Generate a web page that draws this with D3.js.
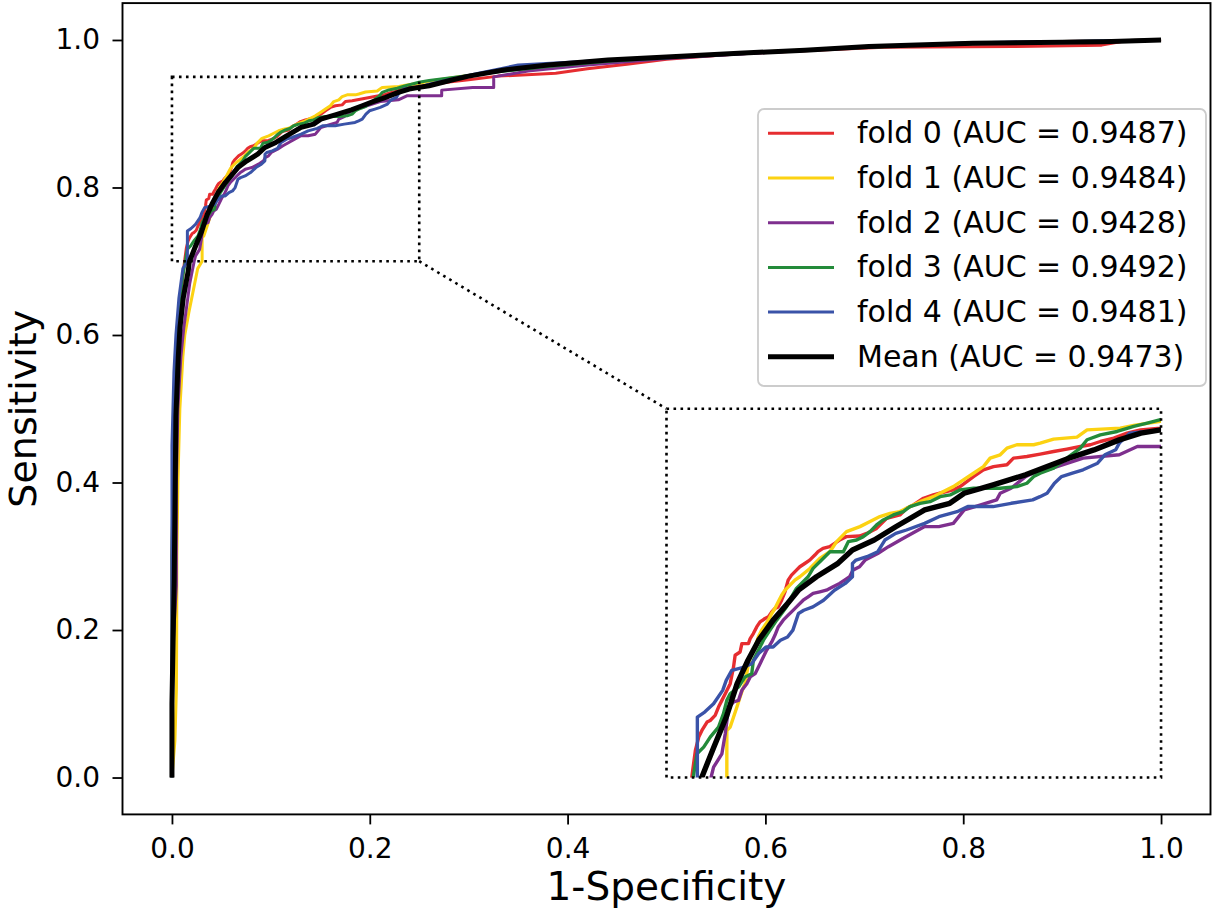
<!DOCTYPE html>
<html>
<head>
<meta charset="utf-8">
<script src="https://cdn.jsdelivr.net/npm/d3@7"></script>
<style>
body { margin: 0; background: #fff; }
svg { display: block; font-family: "DejaVu Sans", sans-serif; }
</style>
</head>
<body>
<div id="roc"></div>
<script>
// ROC points per fold: [1-specificity, sensitivity]
var fold0 = [[0,0],[0,0.3],[0.002,0.45],[0.004,0.55],[0.006,0.6],[0.009,0.65],[0.011,0.68],[0.0129,0.7014],[0.0146,0.7183],[0.0163,0.7274],[0.0179,0.7319],[0.0205,0.7376],[0.0221,0.7387],[0.0246,0.7421],[0.0263,0.7478],[0.028,0.7523],[0.0297,0.7568],[0.0322,0.7636],[0.0339,0.775],[0.0347,0.7829],[0.0372,0.7851],[0.0381,0.7908],[0.0414,0.7908],[0.0423,0.7942],[0.0439,0.7976],[0.0456,0.8021],[0.0473,0.8055],[0.0498,0.8078],[0.0515,0.8089],[0.0532,0.8123],[0.0548,0.8146],[0.0565,0.8157],[0.0582,0.8202],[0.0599,0.8259],[0.0615,0.8338],[0.0632,0.8372],[0.0657,0.8406],[0.0674,0.8429],[0.0699,0.8451],[0.0724,0.8474],[0.075,0.8508],[0.0766,0.8531],[0.0791,0.8553],[0.0825,0.8565],[0.085,0.8587],[0.0875,0.861],[0.0909,0.8633],[0.0976,0.8637],[0.1012,0.8655],[0.1062,0.8689],[0.1113,0.8757],[0.118,0.878],[0.1214,0.8825],[0.1248,0.8848],[0.1299,0.8893],[0.1349,0.8916],[0.14,0.8934],[0.145,0.895],[0.1484,0.8972],[0.1552,0.904],[0.1602,0.9086],[0.1653,0.9108],[0.1721,0.912],[0.1754,0.9165],[0.1822,0.9176],[0.1889,0.9192],[0.1957,0.921],[0.2024,0.9226],[0.2092,0.9244],[0.2143,0.9256],[0.2193,0.9278],[0.2261,0.9301],[0.2328,0.9335],[0.2396,0.9357],[0.2497,0.9369],[0.26,0.939],[0.28,0.943],[0.3,0.946],[0.33,0.951],[0.388,0.9548],[0.42,0.961],[0.46,0.967],[0.5,0.974],[0.57,0.981],[0.65,0.986],[0.72,0.99],[0.85,0.991],[0.94,0.993],[0.96,0.998],[1,1]];

var fold1 = [[0,0],[0.003,0.05],[0.0045,0.12],[0.0048,0.2],[0.005,0.3],[0.006,0.4],[0.008,0.5],[0.011,0.57],[0.013,0.6],[0.017,0.63],[0.02,0.65],[0.026,0.69],[0.0305,0.7],[0.0305,0.7319],[0.0322,0.7342],[0.0339,0.741],[0.0356,0.7478],[0.0372,0.7546],[0.0389,0.7614],[0.0397,0.7636],[0.0414,0.7772],[0.0431,0.784],[0.0448,0.7885],[0.0464,0.7953],[0.0481,0.7999],[0.0498,0.8033],[0.0515,0.8067],[0.0532,0.8112],[0.0548,0.8146],[0.0565,0.8191],[0.0582,0.8236],[0.0599,0.827],[0.0624,0.8304],[0.0649,0.8338],[0.0674,0.8361],[0.0725,0.8417],[0.0775,0.8486],[0.0826,0.8531],[0.086,0.8599],[0.091,0.8667],[0.0978,0.8701],[0.1029,0.8735],[0.1079,0.8769],[0.113,0.8791],[0.118,0.8803],[0.1231,0.8837],[0.1282,0.887],[0.1349,0.8904],[0.14,0.8939],[0.145,0.8972],[0.1501,0.9018],[0.1552,0.9063],[0.1602,0.9108],[0.1636,0.9165],[0.1687,0.9188],[0.1721,0.9233],[0.1771,0.9256],[0.1856,0.9256],[0.1889,0.9267],[0.1957,0.9294],[0.2075,0.9308],[0.2126,0.9357],[0.2294,0.9369],[0.2362,0.9387],[0.2497,0.9414],[0.26,0.944],[0.28,0.948],[0.3,0.952],[0.35,0.961],[0.4,0.968],[0.45,0.973],[0.5,0.977],[0.6,0.984],[0.7,0.99],[0.8,0.995],[0.9,0.998],[1,1]];

var fold2 = [[0,0],[0,0.15],[0.002,0.2],[0.0045,0.26],[0.0045,0.4],[0.006,0.5],[0.009,0.57],[0.012,0.61],[0.015,0.64],[0.018,0.67],[0.0225,0.7],[0.0238,0.707],[0.028,0.7161],[0.0297,0.7297],[0.0314,0.7478],[0.0339,0.7512],[0.0364,0.7523],[0.0381,0.7591],[0.0406,0.7636],[0.0423,0.7682],[0.0448,0.7704],[0.0473,0.7772],[0.0506,0.7862],[0.0532,0.7919],[0.0548,0.7964],[0.0565,0.8021],[0.059,0.8067],[0.0615,0.8101],[0.0641,0.8135],[0.0666,0.8169],[0.0691,0.8202],[0.0716,0.8225],[0.0741,0.8248],[0.0775,0.8259],[0.0808,0.827],[0.0842,0.8293],[0.0875,0.8316],[0.09,0.8338],[0.0926,0.8361],[0.0942,0.8406],[0.0976,0.8429],[0.1004,0.8474],[0.1068,0.8519],[0.1122,0.8565],[0.1195,0.8621],[0.1305,0.8701],[0.1377,0.8701],[0.145,0.8723],[0.1505,0.8814],[0.156,0.8837],[0.1669,0.8882],[0.1687,0.8927],[0.1742,0.8961],[0.1815,0.904],[0.1851,0.9063],[0.1924,0.9086],[0.2106,0.9165],[0.2289,0.9188],[0.238,0.9244],[0.2727,0.9244],[0.2727,0.932],[0.304,0.9355],[0.3253,0.9355],[0.3253,0.95],[0.36,0.958],[0.42,0.966],[0.5,0.975],[0.6,0.983],[0.7,0.99],[0.75,0.993],[0.85,0.997],[1,1]];

var fold3 = [[0,0],[0,0.3],[0.002,0.5],[0.005,0.6],[0.008,0.65],[0.011,0.68],[0.0138,0.7025],[0.0154,0.7161],[0.0188,0.7206],[0.0221,0.7274],[0.0263,0.7342],[0.0288,0.7433],[0.0305,0.7523],[0.0322,0.7568],[0.0364,0.7614],[0.0397,0.7682],[0.0431,0.7704],[0.0439,0.7795],[0.0473,0.7885],[0.049,0.7931],[0.0523,0.7999],[0.0557,0.8067],[0.0582,0.8112],[0.0607,0.8157],[0.0632,0.8225],[0.0657,0.8282],[0.0691,0.8327],[0.0716,0.8361],[0.0741,0.8418],[0.0775,0.8463],[0.0826,0.8531],[0.0894,0.8531],[0.0919,0.8599],[0.0961,0.861],[0.0995,0.8633],[0.1029,0.8667],[0.1062,0.8712],[0.1096,0.8746],[0.1147,0.878],[0.1197,0.8803],[0.1231,0.8837],[0.1282,0.8859],[0.1332,0.887],[0.1383,0.8904],[0.1434,0.8916],[0.1484,0.895],[0.1552,0.8961],[0.1687,0.8961],[0.1771,0.8972],[0.1822,0.8995],[0.1856,0.904],[0.1889,0.9063],[0.1957,0.9097],[0.2024,0.9165],[0.2092,0.9233],[0.2126,0.929],[0.2193,0.9323],[0.2278,0.9346],[0.2362,0.938],[0.243,0.9403],[0.2497,0.9426],[0.26,0.945],[0.29,0.95],[0.33,0.957],[0.38,0.964],[0.45,0.972],[0.55,0.98],[0.65,0.987],[0.75,0.993],[0.87,0.997],[1,1]];

var fold4 = [[0,0],[0,0.45],[0.002,0.55],[0.004,0.6],[0.007,0.65],[0.011,0.69],[0.0156,0.7],[0.0156,0.741],[0.0193,0.7444],[0.0238,0.75],[0.0284,0.7591],[0.0302,0.7659],[0.033,0.7727],[0.0393,0.7749],[0.043,0.7772],[0.0466,0.784],[0.0503,0.7885],[0.0539,0.7885],[0.0576,0.7931],[0.0612,0.7953],[0.0639,0.7999],[0.0667,0.8112],[0.0694,0.8134],[0.074,0.8157],[0.0794,0.8202],[0.0849,0.827],[0.0904,0.8316],[0.094,0.8361],[0.094,0.8451],[0.0958,0.8474],[0.1013,0.8497],[0.1068,0.8531],[0.1104,0.861],[0.1159,0.8655],[0.1213,0.8678],[0.1305,0.8723],[0.1377,0.8768],[0.1469,0.8802],[0.1523,0.8837],[0.1651,0.8837],[0.1742,0.8859],[0.1851,0.8882],[0.1888,0.8904],[0.1924,0.8927],[0.1961,0.8995],[0.1997,0.904],[0.2052,0.9063],[0.2106,0.9086],[0.2179,0.9131],[0.2216,0.9188],[0.2271,0.9222],[0.2289,0.9267],[0.2343,0.9335],[0.2498,0.9357],[0.26,0.94],[0.28,0.946],[0.31,0.955],[0.35,0.966],[0.42,0.971],[0.5,0.976],[0.6,0.983],[0.7,0.99],[0.8,0.996],[0.9,0.998],[1,1]];

var meanRoc = [[0,0],[0,0.1],[0.0023,0.27],[0.004,0.49],[0.0064,0.57],[0.0081,0.61],[0.0114,0.65],[0.0165,0.687],[0.0175,0.699],[0.0239,0.7206],[0.0302,0.741],[0.0357,0.7636],[0.0412,0.7795],[0.0466,0.7931],[0.0539,0.8067],[0.0612,0.818],[0.0667,0.827],[0.0758,0.8361],[0.0867,0.8452],[0.094,0.8542],[0.105,0.861],[0.1159,0.87],[0.1305,0.8814],[0.1432,0.8859],[0.1505,0.8927],[0.1651,0.8984],[0.1815,0.9052],[0.1924,0.9108],[0.2034,0.9165],[0.2161,0.9221],[0.2289,0.9289],[0.2398,0.9335],[0.2498,0.9357],[0.26,0.938],[0.283,0.9458],[0.3,0.951],[0.3357,0.9593],[0.38,0.966],[0.4408,0.9729],[0.5,0.977],[0.5728,0.982],[0.64,0.986],[0.7045,0.991],[0.8098,0.9955],[0.9,0.997],[0.9414,0.9977],[1,1]];

var seriesNames = ["fold 0", "fold 1", "fold 2", "fold 3", "fold 4", "Mean"];
var aucValues = [0.9487, 0.9484, 0.9428, 0.9492, 0.9481, 0.9473];
var xTicks = [0, 0.2, 0.4, 0.6, 0.8, 1.0];
var yTicks = [0, 0.2, 0.4, 0.6, 0.8, 1.0];

var series = [fold0, fold1, fold2, fold3, fold4, meanRoc];
var colors = ["#e62d30", "#fcd212", "#7e2f8e", "#238b3a", "#3a53a8", "#000000"];
var widths = [3.0, 3.0, 3.0, 3.0, 3.0, 5.0];

var width = 1216, height = 920;

var svg = d3.select("#roc")
    .append("svg")
    .attr("width", width)
    .attr("height", height);

var x = d3.scaleLinear().domain([-0.05, 1.05]).range([122.5, 1210.5]);
var y = d3.scaleLinear().domain([-0.05, 1.05]).range([814.4, 3.1]);

// axes
var fmt = d3.format(".1f");

var xAxis = svg.append("g")
    .attr("transform", `translate(0, ${y(-0.05)})`)
    .call(d3.axisBottom(x).tickValues(xTicks).tickFormat(fmt).tickSize(10).tickPadding(13.5));

var yAxis = svg.append("g")
    .attr("transform", `translate(${x(-0.05)}, 0)`)
    .call(d3.axisLeft(y).tickValues(yTicks).tickFormat(fmt).tickSize(10).tickPadding(12.5));

[xAxis, yAxis].forEach(function(g) {
    g.select(".domain").remove();
    g.selectAll(".tick line").attr("stroke", "#000").attr("stroke-width", 1.8);
    g.selectAll(".tick text")
        .attr("fill", "#000")
        .style("font-family", "'DejaVu Sans', sans-serif")
        .style("font-size", "28px");
});

svg.append("rect")
    .attr("x", x(-0.05))
    .attr("y", y(1.05))
    .attr("width", x(1.05) - x(-0.05))
    .attr("height", y(-0.05) - y(1.05))
    .attr("fill", "none")
    .attr("stroke", "#000")
    .attr("stroke-width", 1.9);

svg.append("text")
    .attr("x", (x(-0.05) + x(1.05)) / 2)
    .attr("y", 900)
    .attr("text-anchor", "middle")
    .style("font-size", "39px")
    .text("1-Specificity");

svg.append("text")
    .attr("transform", `translate(36, ${(y(-0.05) + y(1.05)) / 2}) rotate(-90)`)
    .attr("text-anchor", "middle")
    .style("font-size", "38px")
    .text("Sensitivity");

// main curves
var line = d3.line()
    .x(function(d) { return x(d[0]); })
    .y(function(d) { return y(d[1]); });

svg.append("g").selectAll("path")
    .data(series)
    .join("path")
    .attr("d", line)
    .attr("fill", "none")
    .attr("stroke", function(d, i) { return colors[i]; })
    .attr("stroke-width", function(d, i) { return widths[i]; })
    .attr("stroke-linejoin", "round");

// zoom box and connector
var dots = "2.6,4.4";

svg.append("rect")
    .attr("x", x(0))
    .attr("y", y(0.95))
    .attr("width", x(0.25) - x(0))
    .attr("height", y(0.7) - y(0.95))
    .attr("fill", "none")
    .attr("stroke", "#000")
    .attr("stroke-width", 2.6)
    .attr("stroke-dasharray", dots);

svg.append("line")
    .attr("x1", x(0.25)).attr("y1", y(0.7))
    .attr("x2", x(0.5)).attr("y2", y(0.5))
    .attr("stroke", "#000")
    .attr("stroke-width", 2.6)
    .attr("stroke-dasharray", dots);

// inset
var ix0 = x(0.5), ix1 = x(1.0), iy0 = y(0.5), iy1 = y(0);
var xi = d3.scaleLinear().domain([0, 0.25]).range([ix0, ix1]);
var yi = d3.scaleLinear().domain([0.7, 0.95]).range([iy1, iy0]);

svg.append("clipPath")
    .attr("id", "insetClip")
    .append("rect")
    .attr("x", ix0).attr("y", iy0)
    .attr("width", ix1 - ix0).attr("height", iy1 - iy0);

svg.append("rect")
    .attr("x", ix0).attr("y", iy0)
    .attr("width", ix1 - ix0).attr("height", iy1 - iy0)
    .attr("fill", "#fff");

var insetLine = d3.line()
    .x(function(d) { return xi(d[0]); })
    .y(function(d) { return yi(d[1]); });

svg.append("g")
    .attr("clip-path", "url(#insetClip)")
    .selectAll("path")
    .data(series)
    .join("path")
    .attr("d", insetLine)
    .attr("fill", "none")
    .attr("stroke", function(d, i) { return colors[i]; })
    .attr("stroke-width", function(d, i) { return widths[i] + 0.4; })
    .attr("stroke-linejoin", "round");

svg.append("rect")
    .attr("x", ix0).attr("y", iy0)
    .attr("width", ix1 - ix0).attr("height", iy1 - iy0)
    .attr("fill", "none")
    .attr("stroke", "#000")
    .attr("stroke-width", 2.6)
    .attr("stroke-dasharray", dots);

// legend
var legend = svg.append("g");

legend.append("rect")
    .attr("x", 758).attr("y", 109)
    .attr("width", 448).attr("height", 277)
    .attr("rx", 6)
    .attr("fill", "#fff")
    .attr("fill-opacity", 0.8)
    .attr("stroke", "#cccccc")
    .attr("stroke-width", 1.8);

var rows = legend.selectAll("g.row")
    .data(seriesNames)
    .join("g")
    .attr("class", "row")
    .attr("transform", function(d, i) { return `translate(0, ${133.3 + i * 44.7})`; });

rows.append("line")
    .attr("x1", 768).attr("x2", 834)
    .attr("stroke", function(d, i) { return colors[i]; })
    .attr("stroke-width", function(d, i) { return widths[i]; });

rows.append("text")
    .attr("x", 857)
    .attr("y", 10)
    .style("font-size", "30px")
    .text(function(d, i) { return `${d} (AUC = ${aucValues[i].toFixed(4)})`; });
</script>
</body>
</html>
